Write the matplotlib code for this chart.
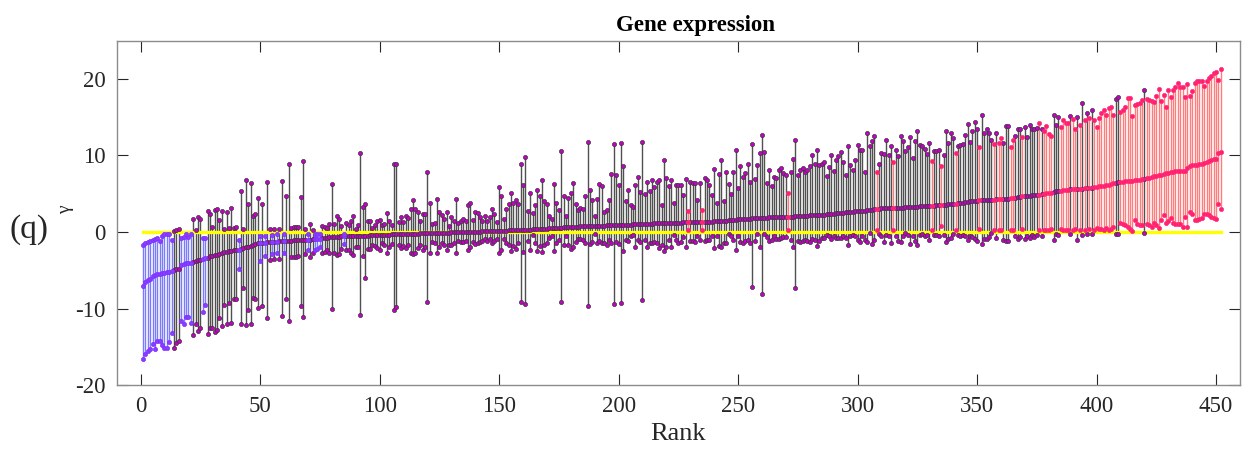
import numpy as np
import matplotlib.pyplot as plt

# median gamma per gene, sorted by rank
gamma_mid = [
    -7.0, -6.5, -6.3, -6.1, -5.8, -5.6, -5.5, -5.45, -5.4, -5.3,
    -5.25, -5.2, -5.15, -5.0, -4.9, -4.8, -4.3, -4.2, -4.1, -4.05,
    -4.0, -3.9, -3.8, -3.7, -3.6, -3.5, -3.45, -3.35, -3.2, -3.1,
    -3.0, -2.95, -2.85, -2.75, -2.65, -2.55, -2.5, -2.45, -2.4, -2.35,
    -2.3, -2.2, -2.1, -2.0, -1.9, -1.8, -1.7, -1.6, -1.5, -1.45,
    -1.4, -1.38, -1.35, -1.32, -1.3, -1.28, -1.25, -1.22, -1.2, -1.18,
    -1.16, -1.14, -1.12, -1.1, -1.08, -1.06, -1.05, -1.04, -1.03, -1.02,
    -1.0, -0.97, -0.94, -0.9, -0.85, -0.8, -0.77, -0.74, -0.71, -0.68,
    -0.66, -0.63, -0.6, -0.58, -0.56, -0.55, -0.54, -0.53, -0.52, -0.51,
    -0.5, -0.49, -0.48, -0.47, -0.46, -0.45, -0.44, -0.43, -0.42, -0.41,
    -0.4, -0.38, -0.36, -0.34, -0.32, -0.3, -0.29, -0.28, -0.27, -0.26,
    -0.25, -0.24, -0.23, -0.22, -0.21, -0.2, -0.19, -0.18, -0.17, -0.16,
    -0.15, -0.14, -0.13, -0.12, -0.11, -0.1, -0.09, -0.08, -0.07, -0.06,
    -0.05, -0.04, -0.03, -0.02, -0.01, 0.0, 0.01, 0.02, 0.03, 0.04,
    0.05, 0.06, 0.07, 0.08, 0.09, 0.1, 0.11, 0.12, 0.14, 0.15,
    0.16, 0.17, 0.18, 0.2, 0.21, 0.22, 0.23, 0.24, 0.25, 0.27,
    0.28, 0.3, 0.31, 0.33, 0.35, 0.37, 0.39, 0.41, 0.43, 0.45,
    0.47, 0.49, 0.51, 0.53, 0.55, 0.57, 0.59, 0.61, 0.63, 0.65,
    0.67, 0.69, 0.71, 0.73, 0.75, 0.76, 0.77, 0.78, 0.79, 0.8,
    0.81, 0.82, 0.83, 0.84, 0.85, 0.86, 0.87, 0.88, 0.9, 0.91,
    0.92, 0.93, 0.95, 0.96, 0.98, 0.99, 1.0, 1.02, 1.03, 1.05,
    1.06, 1.08, 1.1, 1.11, 1.12, 1.13, 1.14, 1.15, 1.16, 1.17,
    1.18, 1.19, 1.2, 1.21, 1.22, 1.24, 1.25, 1.26, 1.27, 1.28,
    1.29, 1.3, 1.31, 1.32, 1.33, 1.34, 1.35, 1.36, 1.37, 1.38,
    1.4, 1.42, 1.45, 1.48, 1.5, 1.53, 1.56, 1.6, 1.62, 1.64,
    1.66, 1.68, 1.7, 1.72, 1.75, 1.77, 1.79, 1.8, 1.82, 1.84,
    1.85, 1.87, 1.9, 1.91, 1.92, 1.93, 1.94, 1.95, 1.96, 1.97,
    1.98, 2.0, 2.02, 2.04, 2.06, 2.08, 2.1, 2.12, 2.14, 2.16,
    2.18, 2.2, 2.22, 2.24, 2.26, 2.28, 2.3, 2.33, 2.36, 2.4,
    2.45, 2.48, 2.51, 2.54, 2.57, 2.6, 2.63, 2.66, 2.69, 2.72,
    2.75, 2.78, 2.81, 2.83, 2.85, 2.9, 2.95, 3.0, 3.05, 3.1,
    3.13, 3.15, 3.16, 3.17, 3.18, 3.19, 3.2, 3.2, 3.2, 3.22,
    3.24, 3.26, 3.28, 3.3, 3.32, 3.34, 3.36, 3.38, 3.4, 3.42,
    3.44, 3.46, 3.5, 3.52, 3.54, 3.56, 3.58, 3.6, 3.62, 3.65,
    3.7, 3.75, 3.8, 3.85, 3.9, 3.95, 4.05, 4.07, 4.09, 4.11,
    4.13, 4.15, 4.17, 4.19, 4.2, 4.22, 4.24, 4.26, 4.28, 4.29,
    4.3, 4.3, 4.35, 4.4, 4.45, 4.5, 4.55, 4.6, 4.65, 4.68,
    4.72, 4.76, 4.8, 4.84, 4.87, 4.9, 4.95, 5.0, 5.05, 5.1,
    5.15, 5.2, 5.3, 5.35, 5.4, 5.45, 5.5, 5.53, 5.56, 5.6,
    5.62, 5.64, 5.66, 5.68, 5.7, 5.72, 5.75, 5.8, 5.85, 5.9,
    5.95, 6.0, 6.05, 6.15, 6.2, 6.28, 6.36, 6.44, 6.5, 6.55,
    6.6, 6.63, 6.66, 6.7, 6.73, 6.76, 6.8, 6.85, 6.9, 6.95,
    7.0, 7.1, 7.2, 7.3, 7.35, 7.4, 7.5, 7.6, 7.7, 7.75,
    7.8, 7.9, 7.92, 7.94, 7.96, 7.98, 8.0, 8.3, 8.6, 8.7,
    8.75, 8.8, 8.85, 8.9, 9.0, 9.2, 9.3, 9.4, 9.5, 9.6,
    10.3, 10.45,
]

# upper end of the interval
gamma_high = [
    -1.7, -1.5, -1.35, -1.2, -1.05, -0.9, -0.8, -1.2, -0.5, -0.3,
    -0.3, -0.3, -1.1, 0.1, 0.3, 0.35, -0.8, -0.6, -0.2, -0.7,
    -0.2, 1.65, 0.3, 1.9, 1.7, -0.8, -0.8, 2.75, 2.3, 0.65,
    2.9, 3.0, 1.6, 2.75, 0.45, 2.6, 0.55, 3.2, 0.5, 0.65,
    -1.1, 5.35, 0.45, 6.75, 3.7, 6.4, 2.05, 2.3, 4.45, -0.55,
    3.6, -0.55, 6.5, 0.4, -0.35, 0.4, -0.3, 0.45, 6.65, -0.3,
    4.65, 8.85, 0.55, 0.6, 0.65, 0.6, 4.6, 9.25, 0.45, -0.3,
    1.1, 0.3, -0.3, -0.3, -0.2, 0.75, 0.65, 0.55, 1.1, 6.3,
    1.0, 2.05, 1.65, 0.75, -0.2, 1.2, 0.9, 1.4, 2.05, 0.45,
    0.9, 10.35, 3.25, 3.7, 1.4, 1.4, 0.55, 0.85, 1.5, 1.6,
    0.9, 1.1, 2.5, 1.5, 0.95, 8.85, 8.85, 1.3, 1.95, 1.25,
    2.1, 1.8, 3.05, 4.2, 3.05, 2.6, 1.5, 2.4, 2.3, 7.9,
    3.85, 1.1, 1.15, 4.35, 2.6, 2.25, 1.65, 2.6, 0.8, 1.9,
    1.5, 4.25, 1.2, 1.45, 1.75, 1.4, 3.5, 3.8, 1.6, 2.6,
    2.5, 1.9, 1.5, 2.05, 1.4, 1.9, 2.95, 2.4, 1.3, 5.9,
    4.7, 1.75, 3.05, 3.6, 5.15, 3.8, 4.2, 3.6, 8.9, 6.1,
    9.8, 2.75, 5.1, 2.5, 3.5, 5.55, 4.65, 6.75, 4.0, 3.6,
    2.05, 1.75, 6.3, 3.85, 2.9, 10.55, 4.7, 2.05, 4.5, 5.15,
    6.45, 3.6, 2.9, 3.15, 2.95, 4.65, 11.7, 5.45, 4.15, 2.05,
    4.35, 6.3, 6.0, 2.6, 2.9, 4.2, 7.55, 11.55, 7.5, 6.1,
    11.6, 8.6, 4.1, 5.45, 3.5, 3.25, 6.1, 7.15, 5.2, 11.75,
    5.0, 6.55, 5.4, 6.75, 5.9, 6.6, 6.75, 3.5, 9.35, 7.0,
    6.0, 6.75, 3.8, 6.1, 6.1, 6.1, 4.8, 6.9, 2.8, 6.5,
    6.4, 6.4, 4.2, 6.4, 2.9, 7.0, 6.75, 6.1, 4.9, 8.2,
    3.8, 7.6, 9.35, 4.1, 7.9, 6.3, 5.0, 7.85, 10.75, 5.75,
    8.6, 7.15, 7.7, 8.9, 6.6, 11.5, 6.9, 8.8, 10.3, 12.7,
    10.5, 6.4, 8.15, 6.0, 7.15, 7.05, 8.15, 8.3, 7.7, 7.5,
    5.1, 7.9, 9.55, 12.05, 7.5, 8.15, 8.35, 7.8, 8.05, 8.65,
    10.0, 8.95, 10.75, 8.7, 8.95, 9.15, 7.35, 8.45, 10.0, 8.0,
    9.35, 9.9, 10.45, 9.2, 7.5, 11.2, 8.7, 8.05, 9.45, 11.35,
    10.7, 10.75, 7.9, 13.0, 11.3, 11.85, 12.6, 7.9, 8.9, 10.3,
    10.25, 12.05, 10.1, 11.3, 9.15, 10.75, 9.9, 12.5, 11.85, 10.65,
    11.05, 12.4, 9.65, 11.95, 13.15, 11.4, 11.2, 10.9, 10.25, 11.65,
    9.25, 10.65, 10.55, 10.75, 8.65, 10.1, 13.15, 11.65, 13.0, 12.35,
    10.3, 11.3, 11.4, 11.55, 12.65, 14.1, 11.75, 13.25, 14.35, 13.45,
    11.1, 15.35, 12.95, 13.4, 12.95, 12.05, 11.5, 12.95, 11.6, 12.3,
    11.6, 13.9, 13.9, 11.1, 12.0, 12.5, 13.5, 13.5, 12.4, 13.7,
    12.4, 13.95, 13.4, 13.4, 13.6, 14.25, 13.5, 13.2, 13.9, 12.8,
    12.5, 15.3, 14.0, 15.0, 13.7, 14.6, 14.2, 14.2, 15.1, 14.8,
    13.5, 15.0, 14.0, 16.8, 14.7, 15.6, 14.9, 16.0, 14.7, 13.7,
    14.85, 15.6, 16.0, 15.3, 16.2, 16.3, 15.3, 17.4, 17.7, 15.7,
    15.9, 16.4, 17.5, 17.5, 15.2, 16.6, 16.7, 16.9, 17.3, 18.6,
    17.4, 17.2, 17.1, 17.0, 17.8, 18.7, 17.1, 17.9, 16.4, 18.6,
    17.6, 18.5, 18.9, 19.5, 18.9, 19.0, 17.7, 19.4, 17.8, 18.4,
    19.5, 19.8, 19.8, 19.8, 19.1, 19.8, 20.1, 20.35, 20.8, 20.9,
    19.9, 21.3,
]

# lower end of the interval
gamma_low = [
    -16.6, -16.0, -15.6, -15.3, -14.7, -15.3, -14.2, -14.2, -14.8, -15.1,
    -15.1, -14.4, -13.2, -15.1, -14.5, -14.2, -11.6, -12.0, -11.1, -11.1,
    -11.9, -13.4, -12.0, -12.9, -12.6, -10.4, -9.6, -13.3, -12.6, -12.6,
    -13.1, -12.8, -11.2, -12.3, -9.5, -12.0, -9.3, -11.85, -8.7, -8.7,
    -4.9, -12.0, -7.3, -12.2, -10.15, -12.0, -8.6, -8.8, -9.9, -3.8,
    -9.7, -3.1, -11.2, -3.7, -2.9, -3.5, -2.8, -3.5, -11.0, -2.8,
    -8.7, -11.6, -3.3, -3.3, -3.3, -3.2, -9.7, -11.1, -2.9, -2.4,
    -3.3, -2.75, -2.4, -2.2, -1.9, -2.75, -2.6, -2.4, -2.75, -10.0,
    -2.8, -3.05, -2.9, -2.2, -1.6, -2.4, -2.3, -2.75, -3.0, -1.95,
    -1.95, -10.9, -3.1, -6.0, -2.2, -2.2, -1.75, -1.85, -2.1, -2.3,
    -1.5, -1.75, -2.75, -1.95, -1.6, -10.25, -9.8, -1.75, -2.05, -1.85,
    -2.05, -1.75, -2.7, -2.9, -2.8, -2.1, -1.75, -2.4, -1.95, -9.15,
    -2.8, -1.3, -1.4, -2.75, -1.95, -1.5, -1.7, -2.3, -1.7, -1.65,
    -1.45, -2.75, -1.2, -1.3, -1.3, -1.2, -2.4, -2.0, -1.3, -1.6,
    -1.5, -1.3, -1.2, -0.85, -1.2, -0.95, -1.5, -1.2, -0.95, -2.75,
    -2.3, -0.85, -1.45, -1.75, -2.5, -1.8, -2.2, -1.5, -9.15, -2.6,
    -9.45, -1.2, -2.4, -0.35, -1.45, -2.5, -1.85, -2.6, -1.75, -1.45,
    -0.75, -0.55, -2.5, -1.5, -1.1, -9.15, -1.75, -0.55, -1.65, -2.2,
    -1.9, -1.3, -0.85, -0.85, -1.1, -1.5, -9.65, -1.6, -1.3, -0.3,
    -1.45, -1.2, -1.5, -1.45, -1.65, -1.0, -1.45, -9.4, -1.3, -1.6,
    -9.3, -2.5, -1.0, -1.2, -0.55, -0.35, -2.0, -1.0, -1.35, -8.85,
    -1.0, -1.95, -1.45, -1.5, -1.35, -1.45, -2.1, -1.65, -2.45, -1.9,
    -1.0, -1.95, -0.35, -1.0, -1.5, -1.35, -0.65, -1.95, 0.2, -1.2,
    -1.2, -1.3, -0.55, -1.1, 0.3, -1.2, -1.1, -1.0, -0.5, -2.1,
    -0.55, -1.8, -1.95, -1.45, -1.5, -0.2, -0.5, -1.0, -2.4, -0.55,
    -1.35, -1.45, -1.2, -1.0, -1.5, -7.2, -1.2, -0.25, -1.9, -8.05,
    -0.2, -0.65, -1.2, -1.0, -0.55, -0.85, -0.9, -0.8, -0.7, -0.65,
    0.2, -1.1, -1.9, -7.3, -1.2, -1.35, -1.2, -1.1, -1.2, -1.3,
    -0.9, -1.1, -1.8, -1.2, -0.8, -0.8, -0.35, -0.55, -0.9, -0.55,
    -0.8, -0.8, -0.8, -0.55, -0.8, -1.65, -0.5, -0.45, -0.55, -1.1,
    -1.3, -0.55, -1.1, -1.35, -0.15, -1.6, -1.0, 0.3, -0.2, -0.55,
    -1.35, -0.45, -0.55, -1.45, 0.3, -0.55, -1.2, -1.35, -0.55, -0.15,
    -0.45, -1.55, -0.55, -1.2, -1.65, -0.35, -0.2, -0.55, -0.35, -1.1,
    0.3, -0.4, -0.35, -0.55, 0.8, -0.35, -1.35, -0.9, -0.8, -0.25,
    0.3, -0.35, -0.55, -0.45, -0.55, -1.1, -0.55, -0.65, -0.9, -1.2,
    0.4, -1.55, -0.9, -0.85, -0.65, -0.15, 0.2, -0.8, 0.2, 0.3,
    -1.1, -1.2, -1.2, 0.3, 0.3, -0.5, -0.9, -0.6, 0.4, -0.9,
    -0.5, -0.8, -0.4, -0.6, -0.4, 0.3, -0.5, 0.3, 0.2, 0.3,
    0.4, -1.0, -0.3, -0.4, 0.4, 0.3, 0.3, 0.2, -0.3, 0.3,
    0.4, -1.0, 0.3, -0.4, 0.3, -0.3, 0.4, -0.2, 0.3, 0.5,
    0.4, 0.4, 0.3, 0.5, 0.3, 0.4, 0.6, -0.3, -0.3, 1.2,
    1.1, 0.9, 0.6, 0.4, 0.1, 1.6, 1.1, 0.95, 0.9, -0.1,
    1.0, 0.9, 0.6, 1.2, 0.9, 0.5, 1.6, 2.25, 1.2, 1.4,
    1.8, 1.2, 1.1, 1.05, 1.0, 0.6, 2.0, 0.7, 2.6, 2.3,
    1.6, 1.6, 1.7, 1.8, 2.3, 2.3, 2.2, 1.9, 1.8, 1.75,
    3.7, 3.0,
]

xticks = [0, 50, 100, 150, 200, 250, 300, 350, 400, 450]
yticks = [-20, -10, 0, 10, 20]

mid = np.array(gamma_mid)
high = np.array(gamma_high)
low = np.array(gamma_low)
rank = np.arange(1, len(mid) + 1)

below = high < 0
above = low > 0
cross = ~(below | above)

plt.rcParams['font.family'] = ['Liberation Serif', 'DejaVu Serif']
plt.rcParams['axes.unicode_minus'] = False

fig = plt.figure(figsize=(12.52, 4.51), dpi=100)
ax = fig.add_axes([0.0932, 0.1463, 0.8972, 0.7634])

# interval lines
ax.vlines(rank[cross], low[cross], high[cross], color='#505050', lw=1.0, zorder=1)
ax.vlines(rank[below], low[below], high[below], color='#7a7aff', lw=1.0, zorder=1)
ax.vlines(rank[above], low[above], high[above], color='#ff7c7c', lw=1.0, zorder=1)

# zero line
ax.plot([rank[0], rank[-1]], [0, 0], color='#ffff00', lw=2.4, zorder=2)

styles = [
    (cross, '#c400c4', '#3a3a3a'),
    (below, '#8c3cff', '#7a30ff'),
    (above, '#ff1f78', '#ff3070'),
]
for sel, face, edge in styles:
    for vals in (low, mid, high):
        ax.plot(rank[sel], vals[sel], 'o', ls='none', ms=3.0, mfc=face,
                mec=edge, mew=0.5, zorder=3)

ax.set_xlim(-10, 460)
ax.set_ylim(-20, 25)
ax.set_xticks(xticks)
ax.set_yticks(yticks)
ax.tick_params(direction='in', length=8, width=0.8, top=True, right=True,
               labelsize=16.5, colors='#262626', pad=8)
for s in ax.spines.values():
    s.set_color('#8c8c8c')
    s.set_linewidth(1.0)

ax.set_title('Gene expression', fontsize=16.5, fontweight='bold', pad=7, x=0.515)
ax.set_xlabel('Rank', fontsize=19, color='#262626', labelpad=4)
fig.text(0.052, 0.535, '\u03b3', fontsize=14, rotation=90, ha='center',
         va='center', color='#262626')
fig.text(0.023, 0.49, '(q)', fontsize=24, ha='center', va='center',
         color='#262626')

fig.savefig('out.png', dpi=100)
